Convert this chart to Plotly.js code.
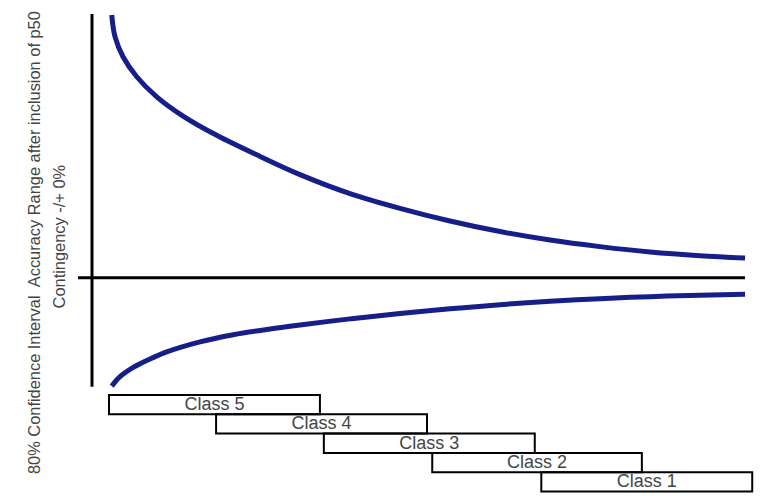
<!DOCTYPE html>
<html>
<head>
<meta charset="utf-8">
<script src="https://cdn.plot.ly/plotly-3.0.1.min.js"></script>
<style>html,body{margin:0;padding:0;background:#fff;}#chart{width:779px;height:496px;}</style>
</head>
<body>
<div id="chart"></div>
<script>
// Project maturity (0-100) vs. accuracy range (upper / lower bound)
const upperX = [3.02, 3.52, 4.75, 6.85, 9.91, 13.94, 19.10, 25.73, 31.85, 39.51, 47.17, 54.82, 62.48, 70.14, 77.79, 85.45, 93.11, 100];
const upperY = [99.6, 91.4, 83.8, 76.2, 68.6, 61.3, 54.0, 46.0, 39.1, 31.9, 26.3, 21.5, 17.5, 14.3, 11.8, 9.75, 8.34, 7.47];
const lowerX = [3.02, 4.29, 6.32, 8.88, 11.44, 16.54, 21.64, 26.75, 31.85, 39.51, 47.17, 54.82, 62.48, 70.14, 77.79, 85.45, 93.11, 100];
const lowerY = [-41.1, -37.5, -34.0, -30.8, -28.1, -24.3, -21.6, -19.6, -17.9, -15.6, -13.6, -11.8, -10.2, -8.95, -7.93, -7.17, -6.64, -6.30];

const classNames = ["Class 5", "Class 4", "Class 3", "Class 2", "Class 1"];
const classStart = [2.6, 19.0, 35.5, 52.1, 68.8];
const classEnd = [34.9, 51.3, 67.8, 84.2, 101.1];

const yTitle1 = "80% Confidence Interval  Accuracy Range after inclusion of p50";
const yTitle2 = "Contingency -/+ 0%";

const curveColor = "rgb(22,30,138)";
const textColor = "#444444";
const fontFam = "Liberation Sans, Arial, sans-serif";
const rowTop0 = -44.5, rowH = 7.3;

const shapes = [];
// axes lines
shapes.push({type: "line", xref: "x", yref: "y", x0: 0, x1: 0, y0: -41.3, y1: 100, line: {color: "#000", width: 3}});
shapes.push({type: "line", xref: "x", yref: "y", x0: -2.14, x1: 100, y0: 0, y1: 0, line: {color: "#000", width: 3}});

const labelX = [], labelY = [];
classNames.forEach((n, i) => {
  const top = rowTop0 - rowH * i;
  shapes.push({type: "rect", xref: "x", yref: "y", x0: classStart[i], x1: classEnd[i], y0: top, y1: top - rowH,
    line: {color: "#000", width: 2}, fillcolor: "rgba(0,0,0,0)"});
  labelX.push((classStart[i] + classEnd[i]) / 2);
  labelY.push(top - rowH / 2 - 0.3);
});

const traces = [
  {x: upperX, y: upperY, mode: "lines", line: {color: curveColor, width: 5, shape: "spline", smoothing: 1}, hoverinfo: "skip"},
  {x: lowerX, y: lowerY, mode: "lines", line: {color: curveColor, width: 5, shape: "spline", smoothing: 1}, hoverinfo: "skip"},
  {x: labelX, y: labelY, mode: "text", text: classNames, textposition: "middle center",
   textfont: {family: fontFam, size: 18, color: textColor}, hoverinfo: "skip"}
];

const layout = {
  width: 779, height: 496,
  margin: {l: 0, r: 0, t: 0, b: 0},
  paper_bgcolor: "#fff", plot_bgcolor: "#fff",
  showlegend: false,
  xaxis: {range: [-14.09, 105.2], visible: false, fixedrange: true},
  yaxis: {range: [-82.75, 105.3], visible: false, fixedrange: true},
  shapes: shapes,
  annotations: [
    {xref: "x", yref: "y", x: -8.9, y: 13.5, text: yTitle1, textangle: -90, showarrow: false,
     xanchor: "center", yanchor: "middle", font: {family: fontFam, size: 16.4, color: textColor}},
    {xref: "x", yref: "y", x: -5.0, y: 15.8, text: yTitle2, textangle: -90, showarrow: false,
     xanchor: "center", yanchor: "middle", font: {family: fontFam, size: 16.4, color: textColor}}
  ]
};

Plotly.newPlot("chart", traces, layout, {displayModeBar: false, staticPlot: true});
</script>
</body>
</html>
